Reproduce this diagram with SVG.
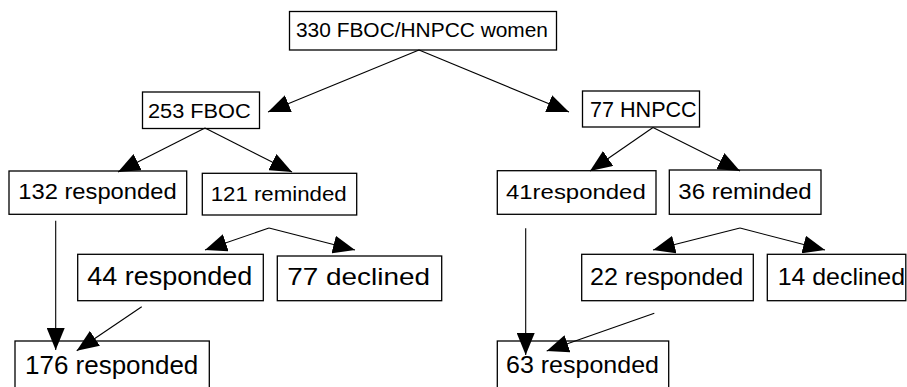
<svg xmlns="http://www.w3.org/2000/svg" width="907" height="387" viewBox="0 0 907 387">
<style>
.box{fill:#fff;stroke:#000;stroke-width:1.3}
.lbl{font-family:"Liberation Sans",Helvetica,Arial,sans-serif;fill:#000}
.con path{fill:none;stroke:#000;stroke-width:1.1;marker-end:url(#ah)}
</style>
<defs>
<marker id="ah" viewBox="0 0 22 18" refX="22" refY="9" markerWidth="22" markerHeight="18" markerUnits="userSpaceOnUse" orient="auto">
<path d="M0,0 L22,9 L0,18 Z" fill="#000"/>
</marker>
</defs>
<rect width="907" height="387" fill="#fff"/>
<g id="n_root"><rect class="box" x="289.5" y="11.5" width="267" height="38.5"/><text class="lbl" x="296" y="37" font-size="20.5" textLength="252" lengthAdjust="spacingAndGlyphs">330 FBOC/HNPCC women</text></g>
<g id="n_fboc"><rect class="box" x="142.5" y="92" width="117" height="36.5"/><text class="lbl" x="148" y="117.5" font-size="20.5" textLength="102.7" lengthAdjust="spacingAndGlyphs">253 FBOC</text></g>
<g id="n_hnpcc"><rect class="box" x="582.5" y="91" width="117" height="36"/><text class="lbl" x="590" y="116.5" font-size="21.5" textLength="106.7" lengthAdjust="spacingAndGlyphs">77 HNPCC</text></g>
<g id="n_f132"><rect class="box" x="9" y="171" width="177.7" height="43.3"/><text class="lbl" x="18.3" y="199" font-size="21.5" textLength="158.3" lengthAdjust="spacingAndGlyphs">132 responded</text></g>
<g id="n_f121"><rect class="box" x="202.3" y="173.3" width="154.4" height="41.7"/><text class="lbl" x="210.7" y="200.7" font-size="20.5" textLength="136" lengthAdjust="spacingAndGlyphs">121 reminded</text></g>
<g id="n_h41"><rect class="box" x="497.3" y="170.7" width="158.7" height="43.6"/><text class="lbl" x="506" y="199" font-size="21" textLength="139.7" lengthAdjust="spacingAndGlyphs">41responded</text></g>
<g id="n_h36"><rect class="box" x="669.3" y="170" width="151.7" height="44.3"/><text class="lbl" x="678.3" y="199.3" font-size="21.5" textLength="133.4" lengthAdjust="spacingAndGlyphs">36 reminded</text></g>
<g id="n_f44"><rect class="box" x="77.7" y="254.3" width="185.6" height="46.4"/><text class="lbl" x="87.3" y="285" font-size="25.5" textLength="165" lengthAdjust="spacingAndGlyphs">44 responded</text></g>
<g id="n_f77"><rect class="box" x="277.3" y="256" width="164.4" height="44.7"/><text class="lbl" x="287.3" y="285" font-size="24" textLength="142.7" lengthAdjust="spacingAndGlyphs">77 declined</text></g>
<g id="n_h22"><rect class="box" x="581.7" y="254.3" width="171.6" height="46.4"/><text class="lbl" x="590" y="285" font-size="24" textLength="153.3" lengthAdjust="spacingAndGlyphs">22 responded</text></g>
<g id="n_h14"><rect class="box" x="767.3" y="254.3" width="138.5" height="46.4"/><text class="lbl" x="777.7" y="285" font-size="24" textLength="127.3" lengthAdjust="spacingAndGlyphs">14 declined</text></g>
<g id="n_f176"><rect class="box" x="15" y="341" width="194.3" height="50"/><text class="lbl" x="25" y="373.5" font-size="25" textLength="173.3" lengthAdjust="spacingAndGlyphs">176 responded</text></g>
<g id="n_h63"><rect class="box" x="497.3" y="341" width="171.4" height="50"/><text class="lbl" x="506" y="373.3" font-size="24.5" textLength="153" lengthAdjust="spacingAndGlyphs">63 responded</text></g>
<g id="connectors" class="con">
<path d="M419,50 L268,112"/>
<path d="M419,50 L569,112"/>
<path d="M205,128 L118,172"/>
<path d="M205,128 L292,172"/>
<path d="M653,127.5 L590,171"/>
<path d="M653,127.5 L740,171"/>
<path d="M269,228 L205,250"/>
<path d="M269,228 L355,250"/>
<path d="M740,228 L653,250"/>
<path d="M740,228 L825,250"/>
<path d="M55.7,220.7 L55.7,350"/>
<path d="M141.7,306.7 L76.7,350.7"/>
<path d="M525.7,228.3 L525.7,355"/>
<path d="M654.3,313.3 L546.7,351"/>
</g>
</svg>
